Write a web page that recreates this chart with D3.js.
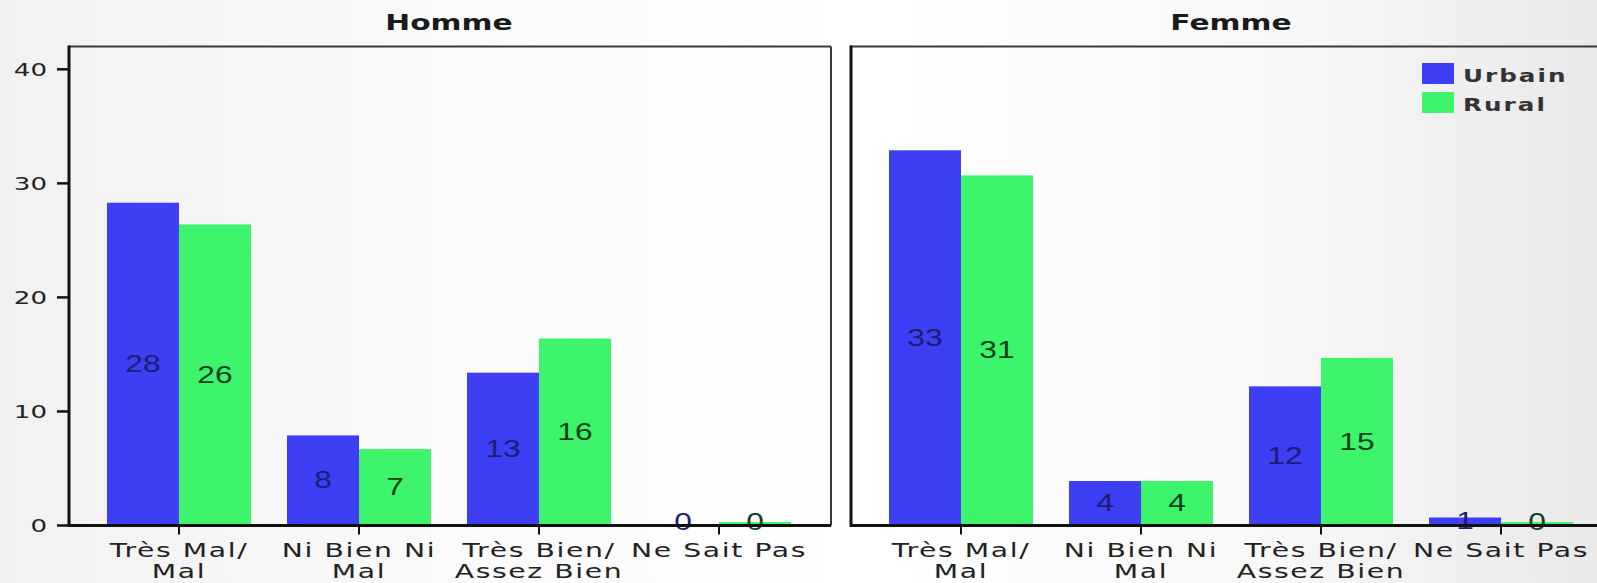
<!DOCTYPE html>
<html>
<head>
<meta charset="utf-8">
<script src="https://cdn.jsdelivr.net/npm/d3@7/dist/d3.min.js"></script>
<style>
  html, body { margin: 0; padding: 0; }
  body { width: 1597px; height: 583px; overflow: hidden; }
</style>
</head>
<body>
<svg id="chart" width="1597" height="583"></svg>
<script>
// ---- data ----
const categories = ["Très Mal/\nMal", "Ni Bien Ni\nMal", "Très Bien/\nAssez Bien", "Ne Sait Pas"];
const series = ["Urbain", "Rural"];
const panels = ["Homme", "Femme"];
const hommeUrbain = [28.3, 7.9, 13.4, 0];
const hommeRural  = [26.4, 6.7, 16.4, 0.3];
const femmeUrbain = [32.9, 3.9, 12.2, 0.7];
const femmeRural  = [30.7, 3.9, 14.7, 0.3];
const yTicks = [0, 10, 20, 30, 40];

const panelData = {
  "Homme": { "Urbain": hommeUrbain, "Rural": hommeRural },
  "Femme": { "Urbain": femmeUrbain, "Rural": femmeRural }
};

// ---- styles ----
const barColor = { "Urbain": "#3e3ef4", "Rural": "#3df46c" };
const labelColor = { "Urbain": "#1c1c72", "Rural": "#0f3f1e" };
const SX = 1.45; // horizontal stretch of the original picture's text

const svg = d3.select("#chart");

// background gradient
const defs = svg.append("defs");
const grad = defs.append("linearGradient").attr("id", "bg").attr("x1", "0").attr("x2", "1").attr("y1", "0").attr("y2", "0");
grad.append("stop").attr("offset", "0%").attr("stop-color", "#f1f1f1");
grad.append("stop").attr("offset", "30%").attr("stop-color", "#fbfbfb");
grad.append("stop").attr("offset", "55%").attr("stop-color", "#ffffff");
grad.append("stop").attr("offset", "80%").attr("stop-color", "#f8f8f8");
grad.append("stop").attr("offset", "100%").attr("stop-color", "#e9e9e9");
svg.append("rect").attr("width", 1597).attr("height", 583).attr("fill", "url(#bg)");

const y = d3.scaleLinear().domain([0, 42]).range([525.5, 46.5]);

function stretchedText(g, x, yy, txt, opts) {
  const t = g.append("text")
    .attr("transform", `translate(${x},${yy}) scale(${opts.sx || SX},1)`)
    .attr("text-anchor", opts.anchor || "middle")
    .attr("font-family", opts.family || "'DejaVu Sans', Verdana, sans-serif")
    .attr("font-size", opts.size || 20)
    .attr("font-weight", opts.weight || "normal")
    .attr("fill", opts.fill || "#222")
    .text(txt);
  if (opts.baseline) t.attr("dominant-baseline", opts.baseline);
  if (opts.spacing) t.attr("letter-spacing", opts.spacing);
  return t;
}

const panelBoxes = [
  { name: "Homme", left: 69, right: 831, showY: true, rightBorder: true },
  { name: "Femme", left: 851, right: 1640, showY: false, rightBorder: false }
];

panelBoxes.forEach(p => {
  const g = svg.append("g");
  const x0 = d3.scaleBand().domain(categories).range([p.left + 20, p.left + 740]).padding(0);
  const x1 = d3.scaleBand().domain(series).range([0, x0.bandwidth()]).paddingInner(0).paddingOuter(0.25);

  // frame top / right
  g.append("line").attr("x1", p.left).attr("x2", p.right).attr("y1", y(42)).attr("y2", y(42))
    .attr("stroke", "#3a3a3a").attr("stroke-width", 2);
  if (p.rightBorder) {
    g.append("line").attr("x1", p.right).attr("x2", p.right).attr("y1", y(42)).attr("y2", y(0))
      .attr("stroke", "#3a3a3a").attr("stroke-width", 2);
  }

  // bars
  const data = panelData[p.name];
  series.forEach(s => {
    g.selectAll(null).data(categories.map((c, i) => ({ c, v: data[s][i] })))
      .enter().append("rect")
      .attr("x", d => x0(d.c) + x1(s))
      .attr("width", x1.bandwidth())
      .attr("y", d => y(d.v))
      .attr("height", d => y(0) - y(d.v))
      .attr("fill", barColor[s]);
  });

  // value labels
  series.forEach(s => {
    categories.forEach((c, i) => {
      const v = data[s][i];
      const cx = x0(c) + x1(s) + x1.bandwidth() / 2;
      const cy = Math.min((y(v) + y(0)) / 2, y(0) - 3);
      stretchedText(g, cx, cy, d3.format(".0f")(v), {
        family: "'Liberation Sans', Arial, sans-serif", size: 23, fill: labelColor[s],
        baseline: "central", sx: 1.38
      });
    });
  });

  // y axis
  const axisLeftX = p.left;
  g.append("line").attr("x1", axisLeftX).attr("x2", axisLeftX).attr("y1", y(42) - 1).attr("y2", y(0) + 1.5)
    .attr("stroke", "#111").attr("stroke-width", 3);
  if (p.showY) {
    yTicks.forEach(t => {
      g.append("line").attr("x1", axisLeftX - 12).attr("x2", axisLeftX).attr("y1", y(t)).attr("y2", y(t))
        .attr("stroke", "#111").attr("stroke-width", 2.5);
      stretchedText(g, axisLeftX - 22, y(t), String(t), {
        anchor: "end", size: 18, fill: "#222", baseline: "central"
      });
    });
  }

  // x baseline
  g.append("line").attr("x1", p.left).attr("x2", p.right).attr("y1", y(0)).attr("y2", y(0))
    .attr("stroke", "#111").attr("stroke-width", 3);

  // x ticks + labels
  categories.forEach(c => {
    const cx = x0(c) + x0.bandwidth() / 2;
    g.append("line").attr("x1", cx).attr("x2", cx).attr("y1", y(0)).attr("y2", y(0) + 9)
      .attr("stroke", "#111").attr("stroke-width", 2);
    const lines = c.split("\n");
    lines.forEach((ln, k) => {
      stretchedText(g, cx, 557 + k * 21, ln, { size: 19.5, fill: "#222", spacing: 1.1 });
    });
  });

  // panel title
  const tx = (x0.range()[0] + x0.range()[1]) / 2;
  stretchedText(g, tx, 30, p.name, { size: 20.5, weight: "bold", fill: "#1a1a1a" });
});

// legend
const lg = svg.append("g");
series.forEach((s, i) => {
  const ly = 63 + i * 29;
  lg.append("rect").attr("x", 1422).attr("y", ly).attr("width", 32).attr("height", 21)
    .attr("fill", barColor[s]);
  stretchedText(lg, 1463, ly + 19, s, { anchor: "start", size: 17, weight: "bold", fill: "#333", spacing: 1.4 });
});
</script>
</body>
</html>
